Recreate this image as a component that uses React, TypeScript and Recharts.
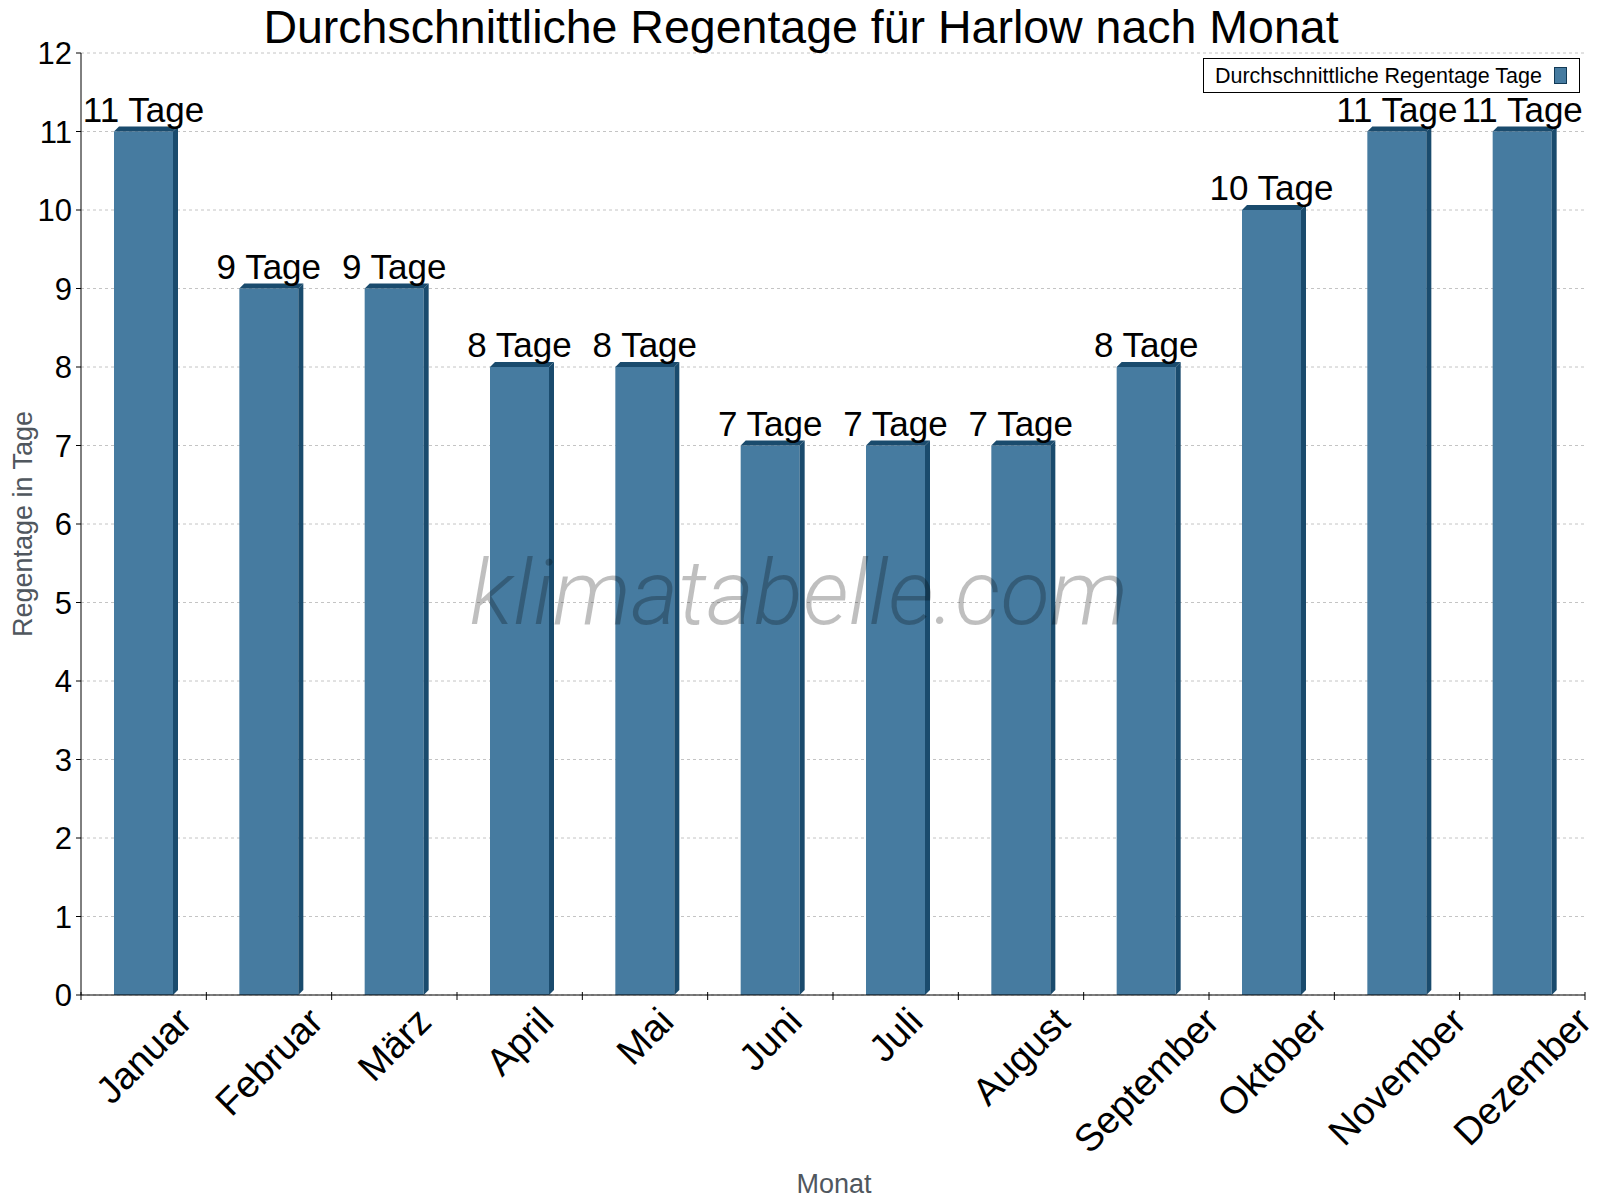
import React from 'react';
import { BarChart, Bar, XAxis, YAxis, CartesianGrid, Legend, LabelList } from 'recharts';

const months = ['Januar', 'Februar', 'März', 'April', 'Mai', 'Juni', 'Juli', 'August', 'September', 'Oktober', 'November', 'Dezember'];
const rainDays = [11, 9, 9, 8, 8, 7, 7, 7, 8, 10, 11, 11];
const yTicks = [0, 1, 2, 3, 4, 5, 6, 7, 8, 9, 10, 11, 12];
const seriesName = 'Durchschnittliche Regentage Tage';
const unit = 'Tage';
const title = 'Durchschnittliche Regentage für Harlow nach Monat';
const xTitle = 'Monat';
const yTitle = 'Regentage in Tage';
const watermark = 'klimatabelle.com';

const data = months.map((m, i) => ({ month: m, pos: i + 0.5, value: rainDays[i] }));
const xTicks = [...months.flatMap((_, i) => [i, i + 0.5]), months.length];

const FONT = '"Liberation Sans", Arial, Helvetica, sans-serif';
const FRONT = '#467ba0';
const SIDE = '#1a4b6d';
const DEPTH = 5;

let ctx: CanvasRenderingContext2D | null = null;
const measure = (s: string, fs: number) => {
  if (!ctx) ctx = document.createElement('canvas').getContext('2d');
  if (!ctx) return s.length * fs * 0.55;
  ctx.font = `${fs}px "Liberation Sans", Arial, sans-serif`;
  return ctx.measureText(s).width;
};

const Bar3D = (props: any) => {
  const { x, y, width: w, height: h } = props;
  if (w == null || h == null || h <= 0) return null;
  const d = DEPTH;
  return (
    <g>
      <rect x={x} y={y} width={w} height={h} fill={FRONT} />
      <polygon points={`${x + w},${y} ${x + w + d},${y - d} ${x + w + d},${y + h - d} ${x + w},${y + h}`} fill={SIDE} />
      <polygon points={`${x},${y} ${x + d},${y - d} ${x + w + d},${y - d} ${x + w},${y}`} fill={SIDE} />
    </g>
  );
};

const XTick = (props: any) => {
  const { x, y, payload } = props;
  const v = payload.value;
  if (Number.isInteger(v)) {
    return <line x1={x} x2={x} y1={y - 3} y2={y + 5} stroke="#000" strokeWidth={1} />;
  }
  const label = months[Math.floor(v)];
  const fs = 38;
  const L = measure(label, fs);
  const cy = y + 10 + (L + 0.72 * fs) / (2 * Math.SQRT2);
  return (
    <text x={x} y={cy} textAnchor="middle" dominantBaseline="central" fontSize={fs} fontFamily={FONT} fill="#000"
      transform={`rotate(-45 ${x} ${cy})`}>
      {label}
    </text>
  );
};

const BarLabel = (props: any) => {
  const { x, y, width, value } = props;
  return (
    <text x={x + width / 2} y={y - 10} textAnchor="middle" fontSize={35} fontFamily={FONT} fill="#000">
      {`${value} ${unit}`}
    </text>
  );
};

const LegendBox = () => (
  <div style={{
    boxSizing: 'border-box', width: 377, height: 35, border: '1px solid #000', background: '#fff',
    display: 'flex', alignItems: 'center', justifyContent: 'flex-end', paddingRight: 12,
    fontFamily: FONT, fontSize: 21.5, color: '#000', whiteSpace: 'nowrap'
  }}>
    <span style={{ marginRight: 12, lineHeight: '22px' }}>{seriesName}</span>
    <span style={{ display: 'inline-block', width: 11, height: 15, background: FRONT, border: '1px solid #123a56' }} />
  </div>
);

export default function App() {
  return (
    <div style={{ position: 'relative', width: 1592, height: 1192, background: '#fff' }}>
      <BarChart width={1592} height={1192} data={data} margin={{ top: 45, right: 15, bottom: 55, left: 13 }}>
        <CartesianGrid vertical={false} yAxisId="left" stroke="#c4c4c4" strokeDasharray="3 3" />
        <XAxis dataKey="pos" type="number" domain={[0, months.length]} ticks={xTicks} interval={0}
          tickLine={false} tickSize={0} tickMargin={0} height={150} tick={<XTick />}
          axisLine={{ stroke: '#000', strokeWidth: 1 }} allowDecimals />
        <YAxis yAxisId="left" domain={[0, 12]} ticks={yTicks} interval={0} width={60} tickSize={5} tickMargin={4}
          tick={{ fontSize: 31, fontFamily: FONT, fill: '#000' }} tickLine={{ stroke: '#000' }}
          axisLine={{ stroke: '#000', strokeWidth: 1 }} />
        <YAxis yAxisId="right" orientation="right" domain={[0, 12]} width={0} tick={false} tickLine={false}
          axisLine={{ stroke: '#000', strokeWidth: 1 }} />
        <Legend layout="vertical" align="center" verticalAlign="middle" content={<LegendBox />}
          wrapperStyle={{ position: 'absolute', top: 50, left: 1195, width: 377, height: 35 }} />
        <Bar yAxisId="left" dataKey="value" name={seriesName} fill={FRONT} barSize={59} shape={<Bar3D />}
          isAnimationActive={false}>
          <LabelList dataKey="value" content={<BarLabel />} />
        </Bar>
      </BarChart>
      <svg width={1592} height={1192} style={{ position: 'absolute', left: 0, top: 0, pointerEvents: 'none' }}>
        <text x={793} y={35} textAnchor="middle" fontSize={46.5} fontFamily={FONT} fill="#000">{title}</text>
        <text x={24} y={516} textAnchor="middle" fontSize={27} fontFamily={FONT} fill="#50575e"
          transform="rotate(-90 24 516)">{yTitle}</text>
        <text x={826} y={1185} textAnchor="middle" fontSize={27} fontFamily={FONT} fill="#50575e">{xTitle}</text>
        <text x={791} y={616} textAnchor="middle" fontSize={91} fontFamily='"Roboto Light", "Roboto Lt", Roboto, sans-serif'
          fontStyle="italic" fontWeight={300} fill="rgba(0,0,0,0.25)">{watermark}</text>
      </svg>
    </div>
  );
}
